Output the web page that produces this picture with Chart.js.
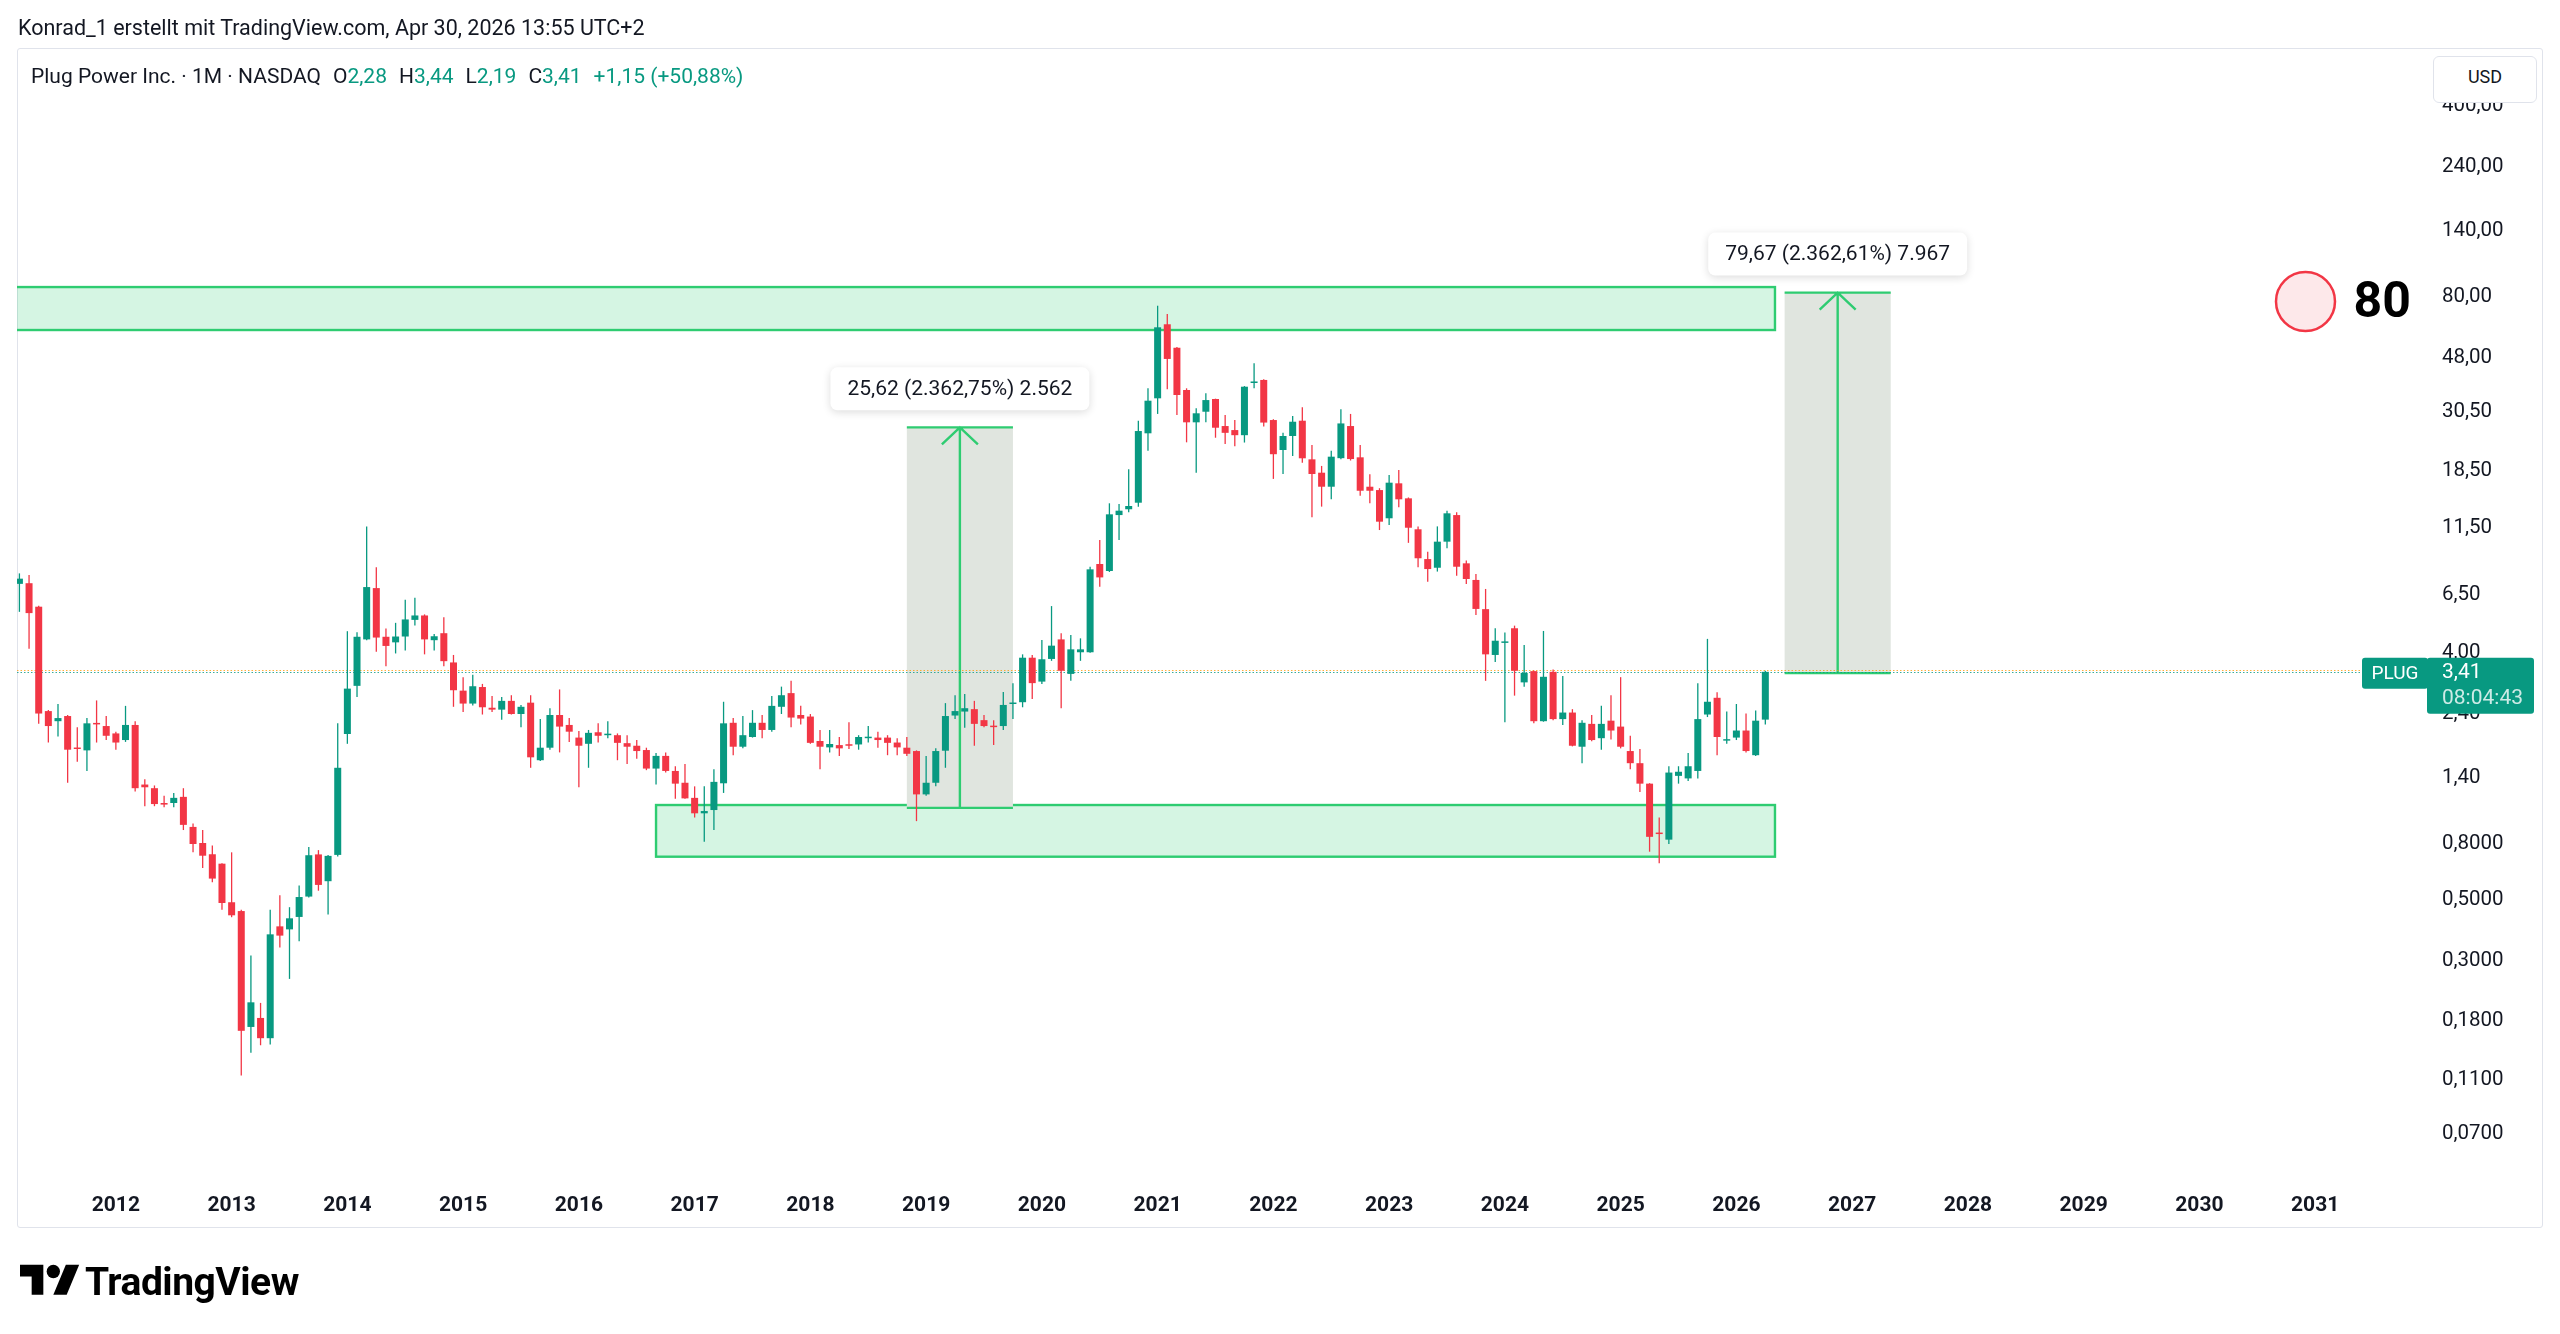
<!DOCTYPE html>
<html lang="de">
<head>
<meta charset="utf-8">
<title>Plug Power Inc. · 1M · NASDAQ</title>
<script src="https://cdn.jsdelivr.net/npm/chart.js@4.4.1/dist/chart.umd.min.js"></script>
<style>
  html, body { margin:0; padding:0; background:#ffffff; }
  body { width:2560px; height:1334px; position:relative; overflow:hidden;
         font-family: Roboto, "Noto Sans", "DejaVu Sans", sans-serif; color:#131722; }
  #pane { position:absolute; left:17px; top:48px; width:2526px; height:1180px; box-sizing:border-box;
          border:1px solid #e0e3eb; border-radius:3px; }
  #chart { position:absolute; left:0; top:0; }
  #credit { position:absolute; left:18px; top:17px; font-size:21.5px; line-height:21.5px; white-space:nowrap; }
  #legend { position:absolute; left:31px; top:66px; font-size:21px; line-height:21px; white-space:nowrap; }
  #legend .v { color:#089981; }
  #legend .g { margin-left:12px; }
  #usd { position:absolute; left:2433px; top:56px; width:104px; height:47px; box-sizing:border-box;
         border:1px solid #e0e3eb; border-radius:6px; background:#fff; font-size:18px; line-height:40px;
         text-align:center; z-index:3; }
  #logo-icon { position:absolute; left:20px; top:1258px; }
  #logo-text { position:absolute; left:85px; top:1263px; font-size:39px; line-height:39px; font-weight:700;
               letter-spacing:-0.5px; color:#000; white-space:nowrap; }
</style>
</head>
<body>
<div id="pane"></div>
<canvas id="chart" width="2560" height="1334"></canvas>
<div id="credit">Konrad_1 erstellt mit TradingView.com, Apr 30, 2026 13:55 UTC+2</div>
<div id="legend"></div>
<div id="usd">USD</div>
<svg id="logo-icon" width="60" height="47" viewBox="0 0 36 28">
  <path d="M14 22H7V11H0V4h14v18z" fill="#000"/>
  <circle cx="20" cy="8" r="4" fill="#000"/>
  <path d="M27.5 4h8L28 22h-8z" fill="#000"/>
</svg>
<div id="logo-text">TradingView</div>
<script>
// ---------- DATA ----------
// monthly candles, first candle = March 2011, last = April 2026
const FIRST_YEAR = 2011, FIRST_MONTH = 3;
const OPEN = [
  7.15, 7.19, 5.90, 2.45, 2.25, 2.35, 1.80, 1.76, 2.21, 2.16,
  2.03, 1.92, 2.18, 1.32, 1.28, 1.13, 1.13, 1.19, 0.924, 0.807,
  0.734, 0.678, 0.49, 0.455, 0.1715, 0.185, 0.156, 0.40, 0.39, 0.433,
  0.514, 0.733, 0.585, 0.73, 2.02, 3.03, 4.48, 6.90, 4.58, 4.37,
  4.59, 5.28, 5.48, 4.45, 4.72, 3.69, 2.91, 2.61, 3.00, 2.52,
  2.48, 2.67, 2.39, 2.63, 1.62, 1.80, 2.37, 2.18, 1.96, 1.86,
  2.05, 2.00, 2.00, 1.87, 1.83, 1.765, 1.51, 1.68, 1.48, 1.34,
  1.18, 1.036, 1.065, 1.334, 2.22, 1.815, 1.97, 2.22, 2.09, 2.54,
  2.85, 2.37, 2.34, 1.905, 1.805, 1.84, 1.84, 1.85, 1.95, 1.96,
  1.96, 1.88, 1.80, 1.75, 1.215, 1.34, 1.755, 2.36, 2.44, 2.49,
  2.27, 2.16, 2.16, 2.60, 2.64, 3.84, 3.14, 3.80, 4.48, 3.35,
  4.02, 4.02, 8.45, 7.97, 12.76, 13.40, 14.16, 25.4, 34.1, 63.6,
  52.2, 36.57, 27.86, 30.46, 33.9, 27.0, 26.1, 25.0, 38.8, 39.8,
  28.4, 22.07, 24.83, 28.24, 20.4, 18.23, 16.2, 20.6, 27.0, 20.75,
  16.2, 15.75, 12.42, 16.67, 14.69, 11.32, 8.81, 8.19, 10.2, 12.76,
  8.50, 7.39, 5.78, 3.93, 4.35, 4.92, 3.12, 3.43, 2.25, 3.41,
  2.29, 2.42, 1.815, 2.20, 1.95, 2.26, 2.15, 1.75, 1.58, 1.33,
  0.88, 0.83, 1.42, 1.39, 1.48, 2.38, 2.74, 1.91, 1.96, 2.08,
  1.69, 2.28
];
const HIGH = [
  7.81, 7.70, 5.95, 2.47, 2.60, 2.37, 2.14, 2.31, 2.68, 2.35,
  2.06, 2.56, 2.25, 1.38, 1.31, 1.20, 1.23, 1.28, 0.95, 0.90,
  0.79, 0.68, 0.746, 0.46, 0.313, 0.21, 0.46, 0.52, 0.47, 0.564,
  0.78, 0.76, 0.73, 2.21, 4.80, 4.76, 11.6, 8.22, 4.91, 5.15,
  6.25, 6.36, 5.53, 4.69, 5.40, 3.93, 3.26, 3.33, 3.08, 2.78,
  2.76, 2.80, 2.58, 2.80, 2.29, 2.51, 2.94, 2.31, 2.07, 2.09,
  2.21, 2.25, 2.03, 2.00, 1.92, 1.80, 1.72, 1.73, 1.54, 1.57,
  1.30, 1.30, 1.50, 2.65, 2.31, 2.35, 2.47, 2.37, 2.78, 3.01,
  3.16, 2.56, 2.39, 2.09, 2.09, 1.97, 2.23, 2.00, 2.16, 2.06,
  2.00, 1.95, 1.97, 1.76, 1.68, 1.79, 2.62, 2.80, 2.83, 2.67,
  2.37, 2.27, 2.88, 3.10, 3.95, 3.93, 4.46, 5.93, 4.72, 4.65,
  4.52, 8.26, 10.34, 14.09, 14.0, 18.76, 28.24, 37.1, 74.35, 69.3,
  52.5, 37.1, 31.35, 35.56, 34.0, 29.6, 28.4, 37.8, 45.8, 40.0,
  28.6, 25.5, 29.4, 31.6, 23.0, 19.3, 21.93, 31.1, 29.9, 23.0,
  18.0, 16.0, 17.88, 18.65, 14.8, 11.6, 9.37, 11.6, 13.24, 13.06,
  8.7, 7.77, 6.85, 4.92, 4.75, 5.03, 4.27, 3.45, 4.81, 3.48,
  3.29, 2.49, 2.27, 2.37, 2.56, 2.80, 3.26, 1.99, 1.78, 1.335,
  1.0, 1.54, 1.54, 1.72, 3.10, 4.50, 2.87, 2.44, 2.60, 2.40,
  2.46, 3.44
];
const LOW = [
  5.65, 4.14, 2.20, 1.88, 1.98, 1.34, 1.60, 1.48, 1.88, 1.92,
  1.77, 1.89, 1.245, 1.10, 1.10, 1.09, 1.09, 0.90, 0.746, 0.654,
  0.58, 0.46, 0.432, 0.114, 0.138, 0.147, 0.148, 0.335, 0.257, 0.353,
  0.51, 0.54, 0.442, 0.72, 1.86, 2.76, 4.45, 4.04, 3.57, 3.98,
  4.08, 5.04, 3.95, 4.08, 3.57, 2.54, 2.43, 2.57, 2.38, 2.43,
  2.28, 2.38, 2.14, 1.52, 1.61, 1.77, 1.73, 1.89, 1.29, 1.52,
  1.88, 1.95, 1.62, 1.57, 1.64, 1.49, 1.32, 1.46, 1.17, 1.17,
  1.00, 0.816, 0.90, 1.23, 1.69, 1.79, 1.96, 1.95, 2.06, 2.39,
  2.14, 2.19, 1.86, 1.50, 1.73, 1.68, 1.78, 1.77, 1.88, 1.80,
  1.69, 1.69, 1.68, 0.97, 1.20, 1.30, 1.52, 2.29, 2.13, 1.83,
  2.14, 1.84, 2.09, 2.29, 2.53, 2.71, 3.08, 3.74, 2.51, 3.16,
  3.74, 4.00, 6.98, 7.90, 10.34, 13.06, 13.69, 21.93, 29.9, 36.8,
  29.6, 23.54, 18.23, 27.86, 24.47, 23.2, 22.8, 23.5, 37.1, 26.9,
  17.3, 18.03, 20.98, 19.83, 12.52, 13.7, 14.57, 20.4, 20.2, 15.0,
  14.1, 11.25, 11.73, 13.63, 10.1, 8.22, 7.28, 7.93, 9.65, 7.66,
  7.14, 5.50, 3.16, 3.70, 2.23, 2.79, 3.01, 2.21, 2.24, 2.27,
  2.18, 1.82, 1.58, 1.90, 1.77, 1.93, 1.79, 1.50, 1.24, 0.75,
  0.68, 0.80, 1.33, 1.36, 1.39, 2.33, 1.69, 1.86, 1.92, 1.73,
  1.68, 2.19
];
const CLOSE = [
  7.47, 5.59, 2.40, 2.16, 2.31, 1.77, 1.78, 2.21, 2.19, 1.99,
  1.88, 2.18, 1.28, 1.29, 1.12, 1.115, 1.18, 0.94, 0.80, 0.725,
  0.598, 0.487, 0.439, 0.166, 0.211, 0.156, 0.374, 0.37, 0.428, 0.512,
  0.728, 0.567, 0.724, 1.52, 2.96, 4.58, 6.96, 4.55, 4.24, 4.59,
  5.30, 5.48, 4.48, 4.60, 3.73, 2.92, 2.61, 3.02, 2.53, 2.48,
  2.67, 2.39, 2.54, 1.66, 1.80, 2.37, 2.15, 2.06, 1.83, 2.04,
  1.99, 2.02, 1.875, 1.815, 1.75, 1.51, 1.68, 1.48, 1.33, 1.175,
  1.036, 1.056, 1.35, 2.21, 1.815, 2.00, 2.22, 2.09, 2.56, 2.80,
  2.32, 2.30, 1.875, 1.815, 1.857, 1.79, 1.83, 1.97, 1.96, 1.92,
  1.875, 1.805, 1.71, 1.215, 1.34, 1.75, 2.35, 2.45, 2.51, 2.20,
  2.16, 2.14, 2.58, 2.62, 3.84, 3.10, 3.79, 4.25, 3.44, 4.12,
  4.12, 8.08, 7.55, 12.84, 13.24, 13.77, 25.89, 33.42, 62.0, 47.5,
  35.06, 27.86, 30.06, 33.6, 26.62, 25.5, 25.0, 37.6, 39.0, 27.8,
  21.3, 24.83, 28.0, 20.58, 18.03, 16.2, 20.86, 27.6, 20.45, 15.66,
  15.66, 12.07, 16.76, 14.57, 11.47, 8.87, 8.10, 10.2, 12.95, 8.26,
  7.45, 5.79, 3.95, 4.43, 4.37, 3.44, 3.38, 2.25, 3.27, 2.29,
  2.42, 1.83, 2.22, 1.92, 2.20, 2.08, 1.815, 1.58, 1.33, 0.85,
  0.87, 1.46, 1.47, 1.54, 2.29, 2.65, 1.97, 1.93, 2.08, 1.75,
  2.26, 3.41
];
const PRICE_TICKS = [400, 240, 140, 80, 48, 30.5, 18.5, 11.5, 6.5, 4, 2.4, 1.4, 0.8, 0.5, 0.3, 0.18, 0.11, 0.07];
const YEARS = [2012, 2013, 2014, 2015, 2016, 2017, 2018, 2019, 2020, 2021,
               2022, 2023, 2024, 2025, 2026, 2027, 2028, 2029, 2030, 2031];
const LEGEND_TITLE = 'Plug Power Inc. · 1M · NASDAQ';
const LEGEND_KEYS = ['O', 'H', 'L', 'C'];
const LEGEND_VALUES = ['2,28', '3,44', '2,19', '3,41'];
const LEGEND_CHANGE = '+1,15 (+50,88%)';
const LAST_PRICE = 3.41, LAST_LABEL = '3,41', LAST_TIMER = '08:04:43', SYMBOL = 'PLUG';
const PREV_LINE_PRICE = 3.46;
// zones (month index range, price range)
const ZONE_FROM = [-3, 66], ZONE_TO = [182, 182];
const ZONE_LOW = [60.6, 0.719], ZONE_HIGH = [87.0, 1.111];
// price range measurements
const RANGE_FROM = [92, 183], RANGE_TO = [103, 194];
const RANGE_START = [1.0843, 3.3721], RANGE_END = [26.704, 83.042];
const RANGE_TEXT = ['25,62 (2.362,75%) 2.562', '79,67 (2.362,61%) 7.967'];
// marker circle with its label
const MARKER_INDEX = 237, MARKER_PRICE = 77.1, MARKER_TEXT = '80';

// ---------- STYLE ----------
const UP = '#089981', DOWN = '#f23645', TEXT = '#131722';
const ZONE_FILL = 'rgba(46,204,113,0.2)', ZONE_LINE = '#2ecc71';
const RANGE_FILL = 'rgb(224,229,223)', RANGE_LINE = '#2ecc71';
const FONT = 'Roboto, "Noto Sans", sans-serif';

// legend html
(function(){
  const lg = document.getElementById('legend');
  let h = '<span>' + LEGEND_TITLE + '</span>';
  LEGEND_KEYS.forEach((k, i) => { h += '<span class="g">' + k + '</span><span class="v">' + LEGEND_VALUES[i] + '</span>'; });
  h += '<span class="g v">' + LEGEND_CHANGE + '</span>';
  lg.innerHTML = h;
})();

function fmt(v) {
  return v >= 1 ? v.toFixed(2).replace('.', ',') : v.toFixed(4).replace('.', ',');
}
function yearIndex(y) { return (y - FIRST_YEAR) * 12 + (1 - FIRST_MONTH); }
function rrect(ctx, x, y, w, h, r) {
  ctx.beginPath(); ctx.moveTo(x + r, y);
  ctx.arcTo(x + w, y, x + w, y + h, r); ctx.arcTo(x + w, y + h, x, y + h, r);
  ctx.arcTo(x, y + h, x, y, r); ctx.arcTo(x, y, x + w, y, r); ctx.closePath();
}
const candleColor = ctx => (CLOSE[ctx.dataIndex] >= OPEN[ctx.dataIndex] ? UP : DOWN);

const overlay = {
  id: 'overlay',
  beforeDatasetsDraw(chart) {
    const { ctx, chartArea: a, scales: { x, y } } = chart;
    ctx.save();
    ctx.beginPath(); ctx.rect(a.left, a.top, a.right - a.left, a.bottom - a.top); ctx.clip();
    // zones
    ZONE_FROM.forEach((f, i) => {
      const x0 = x.getPixelForValue(f), x1 = x.getPixelForValue(ZONE_TO[i]);
      const y0 = y.getPixelForValue(ZONE_HIGH[i]), y1 = y.getPixelForValue(ZONE_LOW[i]);
      ctx.fillStyle = ZONE_FILL; ctx.fillRect(x0, y0, x1 - x0, y1 - y0);
      ctx.strokeStyle = ZONE_LINE; ctx.lineWidth = 2.4; ctx.strokeRect(x0, y0, x1 - x0, y1 - y0);
    });
    // price range boxes
    RANGE_FROM.forEach((f, i) => {
      const x0 = x.getPixelForValue(f), x1 = x.getPixelForValue(RANGE_TO[i]);
      const yt = y.getPixelForValue(RANGE_END[i]), yb = y.getPixelForValue(RANGE_START[i]);
      const mx = (x0 + x1) / 2;
      ctx.fillStyle = RANGE_FILL; ctx.fillRect(x0, yt, x1 - x0, yb - yt);
      ctx.strokeStyle = RANGE_LINE; ctx.lineWidth = 2.4;
      ctx.beginPath();
      ctx.moveTo(x0, yt); ctx.lineTo(x1, yt);
      ctx.moveTo(x0, yb); ctx.lineTo(x1, yb);
      ctx.moveTo(mx, yb); ctx.lineTo(mx, yt);
      ctx.moveTo(mx - 18, yt + 17); ctx.lineTo(mx, yt); ctx.lineTo(mx + 18, yt + 17);
      ctx.stroke();
    });
    // last price lines (dotted)
    const pxEnd = a.right - 66;
    [[PREV_LINE_PRICE, 'rgba(255,152,0,0.75)'], [LAST_PRICE, 'rgba(8,153,129,0.8)']].forEach(([p, c]) => {
      const py = Math.round(y.getPixelForValue(p)) + 0.5;
      ctx.strokeStyle = c; ctx.lineWidth = 1; ctx.setLineDash([1.5, 2]);
      ctx.beginPath(); ctx.moveTo(a.left, py); ctx.lineTo(pxEnd, py); ctx.stroke();
    });
    ctx.setLineDash([]);
    ctx.restore();
  },
  afterDraw(chart) {
    const { ctx, chartArea: a, scales: { x, y } } = chart;
    ctx.save();
    // range labels
    ctx.font = '21px ' + FONT;
    RANGE_FROM.forEach((f, i) => {
      const mx = (x.getPixelForValue(f) + x.getPixelForValue(RANGE_TO[i])) / 2;
      const yt = y.getPixelForValue(RANGE_END[i]);
      const w = ctx.measureText(RANGE_TEXT[i]).width + 34, h = 43;
      const bx = mx - w / 2, by = yt - 17 - h;
      ctx.save();
      ctx.shadowColor = 'rgba(0,0,0,0.14)'; ctx.shadowBlur = 8; ctx.shadowOffsetY = 2;
      ctx.fillStyle = '#ffffff'; rrect(ctx, bx, by, w, h, 7); ctx.fill();
      ctx.restore();
      ctx.fillStyle = TEXT; ctx.textAlign = 'center'; ctx.textBaseline = 'middle';
      ctx.fillText(RANGE_TEXT[i], mx, by + h / 2 + 1);
    });
    // marker circle
    const cx = x.getPixelForValue(MARKER_INDEX), cy = y.getPixelForValue(MARKER_PRICE);
    ctx.beginPath(); ctx.arc(cx, cy, 29.5, 0, Math.PI * 2);
    ctx.fillStyle = '#fde8ea'; ctx.fill();
    ctx.lineWidth = 2.5; ctx.strokeStyle = '#f23645'; ctx.stroke();
    ctx.fillStyle = '#000'; ctx.font = 'bold 50px ' + FONT; ctx.textAlign = 'left'; ctx.textBaseline = 'middle';
    ctx.fillText(MARKER_TEXT, cx + 48, cy + 3);
    // last price labels
    const py = y.getPixelForValue(LAST_PRICE);
    ctx.fillStyle = UP;
    rrect(ctx, a.right - 66, py - 14, 66, 31, 3); ctx.fill();
    rrect(ctx, a.right - 1, py - 14, 107, 56, 3); ctx.fill();
    ctx.fillStyle = '#ffffff'; ctx.font = '19px ' + FONT; ctx.textAlign = 'center';
    ctx.fillText(SYMBOL, a.right - 33, py + 2);
    ctx.textAlign = 'left'; ctx.font = '21px ' + FONT;
    ctx.fillText(LAST_LABEL, a.right + 14, py + 1);
    ctx.fillStyle = 'rgba(255,255,255,0.8)';
    ctx.fillText(LAST_TIMER, a.right + 14, py + 27);
    ctx.restore();
  }
};

function build() {
  const wickData = OPEN.map((o, i) => ({ x: i, y: [LOW[i], HIGH[i]] }));
  const bodyData = OPEN.map((o, i) => ({ x: i, y: [o, CLOSE[i]] }));
  new Chart(document.getElementById('chart'), {
    type: 'bar',
    data: {
      datasets: [
        { label: 'Docht', data: wickData, backgroundColor: candleColor, barThickness: 1.3,
          grouped: false, inflateAmount: 0, order: 2 },
        { label: 'Körper', data: bodyData, backgroundColor: candleColor, barThickness: 7,
          minBarLength: 1.5, grouped: false, inflateAmount: 0, order: 1 }
      ]
    },
    options: {
      responsive: false, animation: false,
      layout: { padding: { left: 17, top: 49, right: 0, bottom: 107 } },
      plugins: { legend: { display: false }, tooltip: { enabled: false } },
      scales: {
        x: {
          type: 'linear', min: -0.25, max: 249.7, bounds: 'data', offset: false,
          afterBuildTicks: s => { s.ticks = YEARS.map(yr => ({ value: yearIndex(yr) })); },
          afterFit: s => { s.height = 52; },
          grid: { display: false, drawTicks: false, offset: false }, border: { display: false },
          ticks: { padding: 18, autoSkip: false, maxRotation: 0, minRotation: 0, color: TEXT,
                   font: { family: FONT, size: 21, weight: 'bold' },
                   callback: (v, i) => String(YEARS[i]) }
        },
        y: {
          type: 'logarithmic', position: 'right', min: 0.04931, max: 645.6, bounds: 'data',
          afterBuildTicks: s => { s.ticks = PRICE_TICKS.map(v => ({ value: v })); },
          afterFit: s => { s.width = 132; },
          grid: { display: false, drawTicks: false }, border: { display: false },
          ticks: { padding: 14, autoSkip: false, color: TEXT, font: { family: FONT, size: 20.5 },
                   callback: v => fmt(v) }
        }
      }
    },
    plugins: [overlay]
  });
}
const fontsReady = Promise.race([
  Promise.all([document.fonts.load('21px Roboto'), document.fonts.load('bold 21px Roboto')]),
  new Promise(r => setTimeout(r, 1500))
]);
fontsReady.then(build, build);
</script>
</body>
</html>
